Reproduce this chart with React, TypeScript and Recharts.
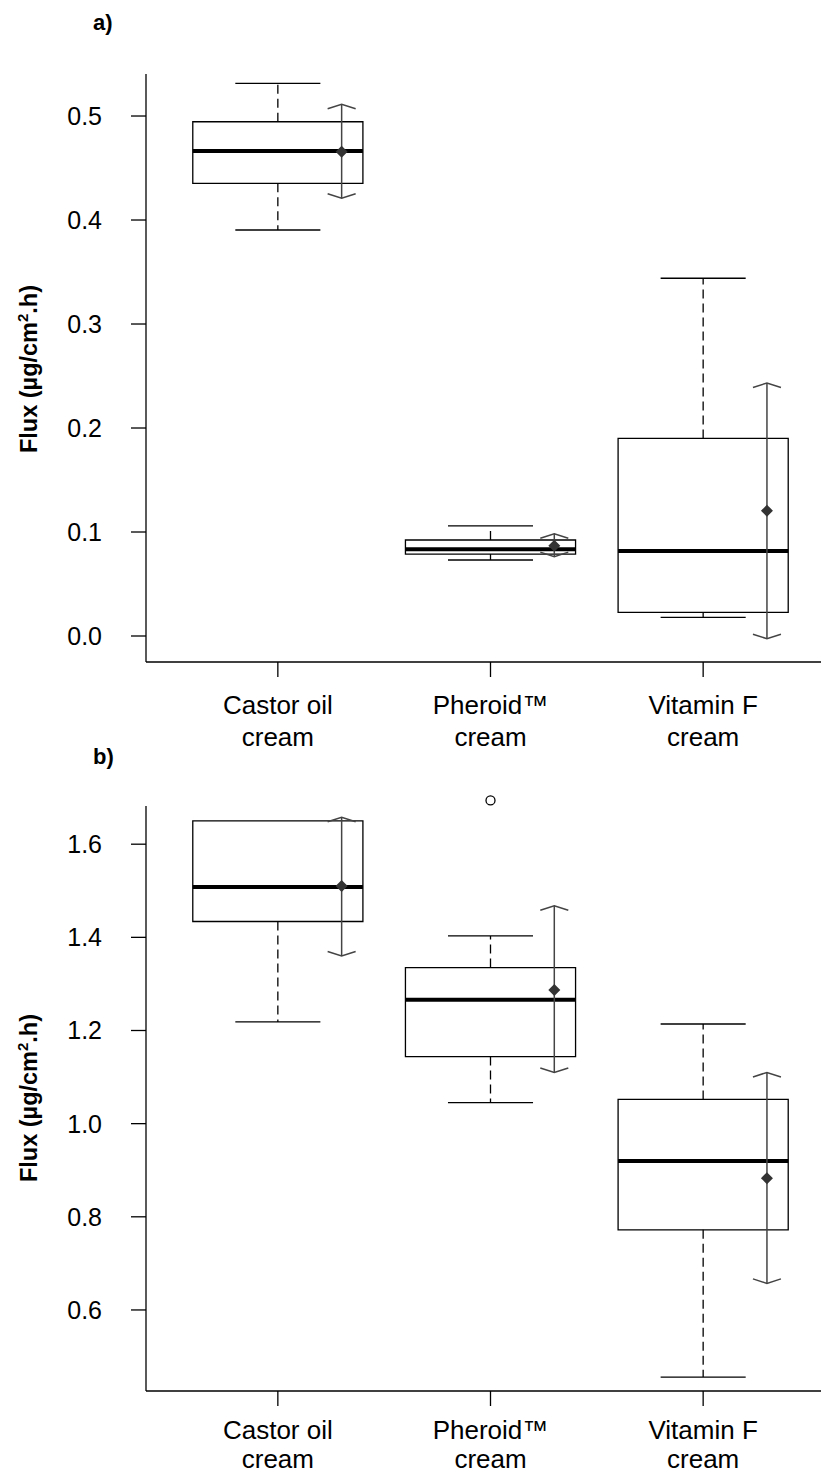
import React from 'react';
import {
  ComposedChart,
  XAxis,
  YAxis,
  ReferenceArea,
  ReferenceLine,
  ReferenceDot,
  Scatter,
} from 'recharts';

// ---------- categories ----------
const categoryLine1 = ['Castor oil', 'Pheroid™', 'Vitamin F'];
const categoryLine2 = ['cream', 'cream', 'cream'];
const categoryIndex = [1, 2, 3];

// ---------- panel a ----------
const aWhiskerLow = [0.3904, 0.0731, 0.018];
const aQ1 = [0.4353, 0.0788, 0.0228];
const aMedian = [0.4663, 0.0834, 0.0817];
const aQ3 = [0.4945, 0.0923, 0.19];
const aWhiskerHigh = [0.5314, 0.1058, 0.344];
const aMean = [0.4657, 0.0868, 0.1205];
const aErrLow = [0.4209, 0.0763, -0.0026];
const aErrHigh = [0.5113, 0.0984, 0.2433];
const aOutlierGroup: number[] = [];
const aOutlierValue: number[] = [];
const aTicks = [0, 0.1, 0.2, 0.3, 0.4, 0.5];
const aDomain = [-0.025, 0.5404];

// ---------- panel b ----------
const bWhiskerLow = [1.2184, 1.045, 0.456];
const bQ1 = [1.434, 1.144, 0.772];
const bMedian = [1.508, 1.266, 0.92];
const bQ3 = [1.65, 1.335, 1.052];
const bWhiskerHigh = [1.6865, 1.403, 1.214];
const bMean = [1.51, 1.287, 0.883];
const bErrLow = [1.36, 1.11, 0.657];
const bErrHigh = [1.658, 1.468, 1.11];
const bOutlierGroup = [2];
const bOutlierValue = [1.694];
const bTicks = [0.6, 0.8, 1.0, 1.2, 1.4, 1.6];
const bDomain = [0.426, 1.682];

const FONT = '"Liberation Sans", Arial, Helvetica, sans-serif';
const BOX_HALF = 0.4;
const CAP_HALF = 0.2;
const MEAN_OFFSET = 0.3;
const X_DOMAIN = [0.38, 3.62];

const makeCatTick = (dy1: number, dy2: number) => (props: any) => {
  const { x, y, payload } = props;
  const i = categoryIndex.indexOf(payload.value);
  if (i < 0) return null;
  return (
    <text x={x} y={y} textAnchor="middle" fontSize={26} fontFamily={FONT} fill="#000">
      <tspan x={x} dy={dy1}>{categoryLine1[i]}</tspan>
      <tspan x={x} dy={dy2}>{categoryLine2[i]}</tspan>
    </text>
  );
};

const ErrShape = (props: any) => {
  const { x1, y1, x2, y2 } = props;
  if (x1 == null || y1 == null) return null;
  const top = Math.min(y1, y2);
  const bot = Math.max(y1, y2);
  const x = x1;
  return (
    <g stroke="#444" strokeWidth={1.5} fill="none">
      <line x1={x1} y1={y1} x2={x2} y2={y2} />
      <polyline points={`${x - 14},${top + 4.5} ${x},${top} ${x + 14},${top + 4.5}`} />
      <polyline points={`${x - 14},${bot - 4.5} ${x},${bot} ${x + 14},${bot - 4.5}`} />
    </g>
  );
};

const Diamond = (props: any) => {
  const { cx, cy } = props;
  if (cx == null || cy == null) return null;
  const r = 6;
  return (
    <path
      d={`M${cx},${cy - r} L${cx + r},${cy} L${cx},${cy + r} L${cx - r},${cy} Z`}
      fill="#333"
    />
  );
};

type Stats = {
  wl: number[];
  q1: number[];
  med: number[];
  q3: number[];
  wh: number[];
  mean: number[];
  el: number[];
  eh: number[];
  og: number[];
  ov: number[];
};

function BoxPanel({
  s,
  domain,
  ticks,
  height,
  marginTop,
  dy1,
  dy2,
}: {
  s: Stats;
  domain: number[];
  ticks: number[];
  height: number;
  marginTop: number;
  dy1: number;
  dy2: number;
}) {
  const meanData = s.mean.map((m, i) => ({ x: categoryIndex[i] + MEAN_OFFSET, y: m }));
  const CatTick = makeCatTick(dy1, dy2);
  const els: any[] = [];
  categoryIndex.forEach((c, i) => {
    els.push(
      <ReferenceLine
        key={`wu${i}`}
        segment={[{ x: c, y: s.q3[i] }, { x: c, y: s.wh[i] }]}
        stroke="#000"
        strokeWidth={1.3}
        strokeDasharray="9 5"
      />
    );
    els.push(
      <ReferenceLine
        key={`wd${i}`}
        segment={[{ x: c, y: s.q1[i] }, { x: c, y: s.wl[i] }]}
        stroke="#000"
        strokeWidth={1.3}
        strokeDasharray="9 5"
      />
    );
    els.push(
      <ReferenceLine
        key={`cu${i}`}
        segment={[{ x: c - CAP_HALF, y: s.wh[i] }, { x: c + CAP_HALF, y: s.wh[i] }]}
        stroke="#000"
        strokeWidth={1.3}
      />
    );
    els.push(
      <ReferenceLine
        key={`cd${i}`}
        segment={[{ x: c - CAP_HALF, y: s.wl[i] }, { x: c + CAP_HALF, y: s.wl[i] }]}
        stroke="#000"
        strokeWidth={1.3}
      />
    );
    els.push(
      <ReferenceArea
        key={`b${i}`}
        x1={c - BOX_HALF}
        x2={c + BOX_HALF}
        y1={s.q1[i]}
        y2={s.q3[i]}
        fill="#fff"
        fillOpacity={1}
        stroke="#000"
        strokeWidth={1.3}
      />
    );
    els.push(
      <ReferenceLine
        key={`m${i}`}
        segment={[{ x: c - BOX_HALF, y: s.med[i] }, { x: c + BOX_HALF, y: s.med[i] }]}
        stroke="#000"
        strokeWidth={4}
      />
    );
    els.push(
      <ReferenceLine
        key={`e${i}`}
        segment={[
          { x: c + MEAN_OFFSET, y: s.el[i] },
          { x: c + MEAN_OFFSET, y: s.eh[i] },
        ]}
        stroke="#444"
        shape={ErrShape}
      />
    );
  });
  s.og.forEach((g, k) => {
    els.push(
      <ReferenceDot
        key={`o${k}`}
        x={g}
        y={s.ov[k]}
        r={4.5}
        fill="#fff"
        stroke="#000"
        strokeWidth={1.3}
        ifOverflow="visible"
      />
    );
  });

  return (
    <ComposedChart
      width={840}
      height={height}
      margin={{ top: marginTop, right: 5, bottom: 0, left: 46 }}
      style={{ fontFamily: FONT }}
    >
      <XAxis
        type="number"
        dataKey="x"
        domain={X_DOMAIN}
        ticks={categoryIndex}
        allowDataOverflow
        interval={0}
        height={100}
        tickSize={15}
        tickMargin={2}
        tick={<CatTick />}
        axisLine={{ stroke: '#000', strokeWidth: 1.3 }}
        tickLine={{ stroke: '#000', strokeWidth: 1.3 }}
      />
      <YAxis
        type="number"
        dataKey="y"
        domain={domain}
        ticks={ticks}
        allowDataOverflow
        interval={0}
        width={100}
        tickSize={15}
        tickMargin={29}
        tickFormatter={(v: number) => v.toFixed(1)}
        tick={{ fill: '#000', fontSize: 25, fontFamily: FONT }}
        axisLine={{ stroke: '#000', strokeWidth: 1.3 }}
        tickLine={{ stroke: '#000', strokeWidth: 1.3 }}
      />
      {els}
      <Scatter data={meanData} dataKey="y" shape={Diamond} isAnimationActive={false} />
    </ComposedChart>
  );
}

const statsA: Stats = {
  wl: aWhiskerLow,
  q1: aQ1,
  med: aMedian,
  q3: aQ3,
  wh: aWhiskerHigh,
  mean: aMean,
  el: aErrLow,
  eh: aErrHigh,
  og: aOutlierGroup,
  ov: aOutlierValue,
};
const statsB: Stats = {
  wl: bWhiskerLow,
  q1: bQ1,
  med: bMedian,
  q3: bQ3,
  wh: bWhiskerHigh,
  mean: bMean,
  el: bErrLow,
  eh: bErrHigh,
  og: bOutlierGroup,
  ov: bOutlierValue,
};

const YTitle = ({ cx, cy }: { cx: number; cy: number }) => (
  <text
    transform={`translate(${cx}, ${cy}) rotate(-90)`}
    textAnchor="middle"
    fontSize={23.5}
    fontWeight="bold"
    fontFamily={FONT}
    fill="#000"
  >
    Flux (µg/cm
    <tspan dy={-9} fontSize={15}>2</tspan>
    <tspan dy={9}>.h)</tspan>
  </text>
);

export default function App() {
  return (
    <div
      style={{
        position: 'fixed',
        left: 0,
        top: 0,
        width: 821,
        height: 1479,
        overflow: 'hidden',
        background: '#fff',
      }}
    >
      <div style={{ position: 'absolute', left: 0, top: 0 }}>
        <BoxPanel s={statsA} domain={aDomain} ticks={aTicks} height={762} marginTop={74} dy1={35} dy2={32} />
      </div>
      <div style={{ position: 'absolute', left: 0, top: 760 }}>
        <BoxPanel s={statsB} domain={bDomain} ticks={bTicks} height={731} marginTop={46} dy1={31} dy2={29} />
      </div>
      <svg
        width={821}
        height={1479}
        style={{ position: 'absolute', left: 0, top: 0, pointerEvents: 'none' }}
      >
        <text x={93} y={30} fontSize={22} fontWeight="bold" fontFamily={FONT} fill="#000">
          a)
        </text>
        <text x={93} y={764} fontSize={22} fontWeight="bold" fontFamily={FONT} fill="#000">
          b)
        </text>
        <YTitle cx={37} cy={369} />
        <YTitle cx={37} cy={1098} />
      </svg>
    </div>
  );
}
